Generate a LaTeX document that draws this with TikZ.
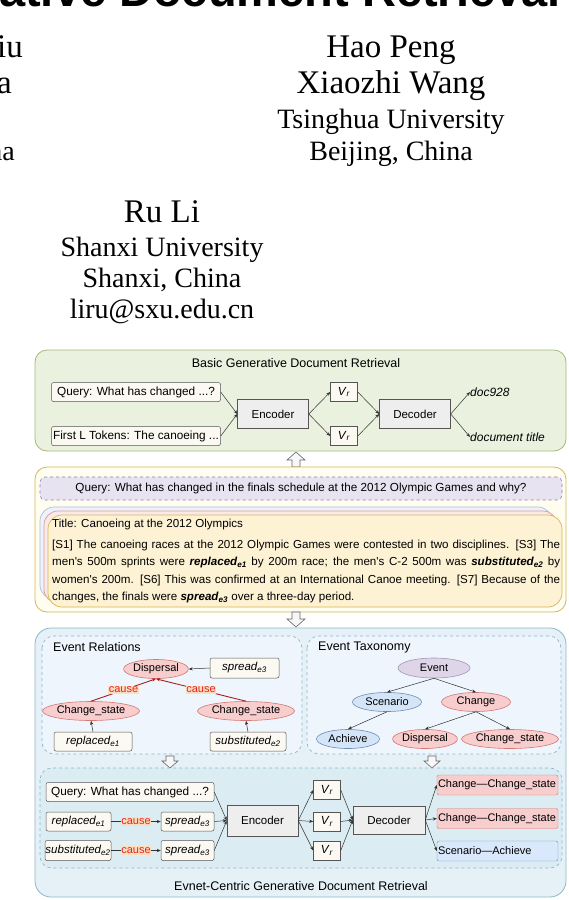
\documentclass[tikz,border=0pt]{standalone}
\usepackage{fontspec}
\setmainfont{Liberation Serif}
\newfontfamily\diafont{Liberation Sans}
\usepackage{xcolor}
\usepackage{tikz}
\usetikzlibrary{arrows.meta,shapes.geometric}

\definecolor{grnfill}{RGB}{234,241,223}
\definecolor{grnline}{RGB}{164,186,120}
\definecolor{ylwfill}{RGB}{255,252,240}
\definecolor{ylwline}{RGB}{214,182,86}
\definecolor{cardfill}{RGB}{253,242,212}
\definecolor{pplfill}{RGB}{231,227,240}
\definecolor{pplline}{RGB}{150,125,180}
\definecolor{bluefill}{RGB}{230,241,247}
\definecolor{blueline}{RGB}{140,182,204}
\definecolor{panelfill}{RGB}{238,245,252}
\definecolor{panelline}{RGB}{135,185,210}
\definecolor{lowfill}{RGB}{219,237,243}
\definecolor{boxfill}{RGB}{251,249,242}
\definecolor{boxline}{RGB}{85,85,85}
\definecolor{modfill}{RGB}{238,238,238}
\definecolor{redfill}{RGB}{247,206,205}
\definecolor{redline}{RGB}{212,120,116}
\definecolor{skyfill}{RGB}{212,229,248}
\definecolor{skyline}{RGB}{110,140,180}
\definecolor{evfill}{RGB}{222,213,232}
\definecolor{evline}{RGB}{165,150,185}
\definecolor{causebg}{RGB}{252,222,190}
\definecolor{causefg}{RGB}{220,40,40}
\definecolor{causeln}{RGB}{170,30,30}
\definecolor{outbfill}{RGB}{218,232,252}
\definecolor{outbline}{RGB}{108,142,191}
\definecolor{linkgray}{RGB}{50,50,50}

\begin{document}
\begin{tikzpicture}[x=1pt,y=-1pt,>={Stealth[length=4pt,width=3.2pt]},
  every node/.style={font=\diafont\fontsize{11.8}{14}\selectfont,inner sep=0pt},
  hdr/.style={font=\fontsize{33}{40}\selectfont,anchor=base},
  aff/.style={font=\fontsize{28}{34}\selectfont,anchor=base},
  ptitle/.style={font=\diafont\fontsize{12.5}{15}\selectfont},
  panel/.style={rounded corners=12,line width=0.8pt},
  subpanel/.style={rounded corners=12,dashed,draw=panelline,fill=panelfill,line width=0.7pt},
  card/.style={rounded corners=14,line width=0.7pt},
  txtbox/.style={draw=boxline,fill=boxfill,rounded corners=2pt,minimum height=19,line width=0.5pt},
  itbox/.style={txtbox,font=\diafont\itshape\fontsize{11.5}{13}\selectfont},
  modbox/.style={draw=boxline,fill=modfill,minimum width=71,minimum height=29,line width=0.5pt,font=\diafont\fontsize{11.5}{13}\selectfont},
  vecbox/.style={draw=boxline,fill=boxfill,minimum width=27,minimum height=19,line width=0.5pt},
  redell/.style={ellipse,draw=redline,fill=redfill,line width=0.6pt,font=\diafont\fontsize{11}{13}\selectfont},
  bluell/.style={ellipse,draw=skyline,fill=skyfill,line width=0.6pt,font=\diafont\fontsize{11}{13}\selectfont},
  outred/.style={draw=redline,fill=redfill,rounded corners=2pt,text width=119,inner xsep=1pt,minimum height=20,align=left,font=\diafont\fontsize{11}{13}\selectfont},
  outblue/.style={draw=outbline,fill=outbfill,rounded corners=2pt,text width=119,inner xsep=1pt,minimum height=20,align=left,font=\diafont\fontsize{11}{13}\selectfont},
  outtext/.style={anchor=west,font=\diafont\itshape\fontsize{12}{14}\selectfont},
  link/.style={->,draw=linkgray,line width=0.5pt},
  causelink/.style={->,draw=causeln,line width=0.9pt},
  causetag/.style={fill=causebg,text=causefg,inner xsep=0.5pt,inner ysep=1pt,font=\diafont\fontsize{11}{13}\selectfont},
  blockarrow/.style={draw=gray!80!black,fill=gray!6,line width=0.6pt,line join=miter}]

  \useasboundingbox (0,0) rectangle (568,900);
  \clip (0,0) rectangle (568,900);

  \node[anchor=base west,font=\diafont\bfseries\fontsize{47}{50}\selectfont] (papertitle) at (-1,6) {ative Document Retrieval};
  \node[hdr,anchor=base east] (leftname) at (23,57) {iu};
  \node[hdr,anchor=base east] (leftname2) at (12,93) {a};
  \node[aff,anchor=base east] (leftcity) at (15,160) {na};
  \node[hdr] (peng) at (391,57) {Hao Peng};
  \node[hdr] (wang) at (391,93) {Xiaozhi Wang};
  \node[aff] (thu) at (391,128) {Tsinghua University};
  \node[aff] (thucity) at (391,160) {Beijing, China};
  \node[hdr] (li) at (162,222) {Ru Li};
  \node[aff] (sxu) at (162,256) {Shanxi University};
  \node[aff] (sxucity) at (162,287) {Shanxi, China};
  \node[aff] (mail) at (162,318) {liru@sxu.edu.cn};

  % basic generative retrieval
  \draw[panel,draw=grnline,fill=grnfill] (35,350) rectangle (566,451);
  \node[ptitle] (basictitle) at (296,363) {Basic Generative Document Retrieval};
  \node[txtbox,minimum width=169] (bquery) at (136,392) {Query: What has changed ...?};
  \node[txtbox,minimum width=169] (bfirst) at (136,436) {First L Tokens: The canoeing ...};
  \node[modbox] (benc) at (273,414) {Encoder};
  \node[vecbox] (bvec1) at (344,392) {\textit{V}\textsubscript{\textit{r}}};
  \node[vecbox] (bvec2) at (344,436) {\textit{V}\textsubscript{\textit{r}}};
  \node[modbox] (bdec) at (415,414) {Decoder};
  \node[outtext] (bdocid) at (470,392) {doc928};
  \node[outtext] (bdoctitle) at (470,437) {document title};
  \draw[link] (bquery.east) -- (benc.west);
  \draw[link] (bfirst.east) -- (benc.west);
  \draw[link] (benc.east) -- (bvec1.west);
  \draw[link] (benc.east) -- (bvec2.west);
  \draw[link] (bvec1.east) -- (bdec.west);
  \draw[link] (bvec2.east) -- (bdec.west);
  \draw[link] (bdec.east) -- (bdocid.west);
  \draw[link] (bdec.east) -- (bdoctitle.west);

  \draw[blockarrow] (296,452) -- (305,460) -- (300,460) -- (300,467) -- (292,467) -- (292,460) -- (287,460) -- cycle;

  % document
  \draw[panel,draw=ylwline,fill=ylwfill] (35,467) rectangle (566,612);
  \node[draw=pplline,fill=pplfill,dashed,rounded corners=5,minimum width=522,minimum height=23,line width=0.6pt,font=\diafont\fontsize{11.7}{14}\selectfont] (dquery) at (301,488.5) {Query: What has changed in the finals schedule at the 2012 Olympic Games and why?};
  \draw[card,draw=skyline!55,fill=skyfill!45] (40,507) rectangle (552,599);
  \draw[card,draw=redline!75,fill=redfill!45] (44,511) rectangle (557,603);
  \draw[card,draw=ylwline,fill=cardfill] (48,515) rectangle (562,607);
  \node[anchor=north west,align=left,font=\diafont\fontsize{11.6}{17.3}\selectfont] (doctext) at (52,518.5) {Title: Canoeing at the 2012 Olympics\\[4pt]
    \makebox[508pt][s]{[S1] The canoeing races at the 2012 Olympic Games were contested in two disciplines. [S3] The}\\
    \makebox[508pt][s]{men's 500m sprints were \textbf{\textit{replaced\textsubscript{e1}}} by 200m race; the men's C-2 500m was \textbf{\textit{substituted\textsubscript{e2}}} by}\\
    \makebox[508pt][s]{women's 200m. [S6] This was confirmed at an International Canoe meeting. [S7] Because of the}\\
    changes, the finals were \textbf{\textit{spread\textsubscript{e3}}} over a three-day period.};

  \draw[blockarrow] (296,627) -- (305,619) -- (300,619) -- (300,612) -- (292,612) -- (292,619) -- (287,619) -- cycle;

  % event-centric retrieval
  \draw[panel,draw=blueline,fill=bluefill,rounded corners=16] (35,628) rectangle (566,897);
  \draw[subpanel] (42,636) rectangle (302,754);
  \draw[subpanel] (307,636) rectangle (561,754);
  \node[ptitle,anchor=west] (reltitle) at (53,647) {Event Relations};
  \node[ptitle,anchor=west] (taxtitle) at (318,647) {Event Taxonomy};

  \node[redell,minimum width=62,minimum height=19] (rdisp) at (156,669) {Dispersal};
  \node[itbox,minimum width=69,minimum height=20] (rspread) at (244.5,668) {spread\textsubscript{e3}};
  \node[redell,minimum width=86,minimum height=19] (rstate1) at (91,711) {Change\_state};
  \node[redell,minimum width=82,minimum height=19] (rstate2) at (246,711) {Change\_state};
  \node[itbox,minimum width=78] (rrepl) at (93,741.5) {replaced\textsubscript{e1}};
  \node[itbox,minimum width=76] (rsubs) at (248,741.5) {substituted\textsubscript{e2}};
  \draw[link] (rspread.west) -- (rdisp.east);
  \draw[link] (rrepl.north) -- (rstate1.south);
  \draw[link] (rsubs.north) -- (rstate2.south);
  \draw[causelink] (rstate1.north) -- node[causetag] {cause} (rdisp.south);
  \draw[causelink] (rstate2.north) -- node[causetag] {cause} (rdisp.south);

  \node[ellipse,draw=evline,fill=evfill,line width=0.6pt,minimum width=72,minimum height=20,font=\diafont\fontsize{11}{13}\selectfont] (tevent) at (434,668) {Event};
  \node[bluell,minimum width=69,minimum height=19] (tscen) at (387,702) {Scenario};
  \node[redell,minimum width=69,minimum height=19] (tchange) at (476,702) {Change};
  \node[bluell,minimum width=63,minimum height=19] (tachieve) at (348,739) {Achieve};
  \node[redell,minimum width=56,minimum height=19] (tdisp) at (425,739) {Dispersal};
  \node[redell,minimum width=81,minimum height=19] (tstate) at (510,739) {Change\_state};
  \draw[link] (tevent.south) -- (tscen.north);
  \draw[link] (tevent.south) -- (tchange.north);
  \draw[link] (tscen.south) -- (tachieve.north);
  \draw[link] (tchange.south) -- (tdisp.north);
  \draw[link] (tchange.south) -- (tstate.north);

  \draw[blockarrow] (170,768) -- (178,761) -- (174,761) -- (174,756) -- (166,756) -- (166,761) -- (162,761) -- cycle;
  \draw[blockarrow] (432,768) -- (440,761) -- (436,761) -- (436,756) -- (428,756) -- (428,761) -- (424,761) -- cycle;

  \draw[subpanel,fill=lowfill] (40,768) rectangle (562,868);
  \node[txtbox,minimum width=168] (lquery) at (130,792) {Query: What has changed ...?};
  \node[itbox,minimum width=65] (lrepl) at (78.5,821.5) {replaced\textsubscript{e1}};
  \node[itbox,minimum width=53] (lspread1) at (187.5,821.5) {spread\textsubscript{e3}};
  \node[itbox,minimum width=66,minimum height=20] (lsubs) at (78,850.5) {substituted\textsubscript{e2}};
  \node[itbox,minimum width=53,minimum height=20] (lspread2) at (187.5,850.5) {spread\textsubscript{e3}};
  \draw[link] (lrepl.east) -- node[causetag] {cause} (lspread1.west);
  \draw[link] (lsubs.east) -- node[causetag] {cause} (lspread2.west);
  \node[modbox,minimum height=31] (lenc) at (262.5,820.5) {Encoder};
  \node[vecbox] (lvec1) at (327,790) {\textit{V}\textsubscript{\textit{r}}};
  \node[vecbox] (lvec2) at (327,821.5) {\textit{V}\textsubscript{\textit{r}}};
  \node[vecbox] (lvec3) at (327,850.5) {\textit{V}\textsubscript{\textit{r}}};
  \node[modbox,minimum width=72,minimum height=28] (ldec) at (389,820) {Decoder};
  \node[outred] (lout1) at (497.5,785) {Change—Change\_state};
  \node[outred] (lout2) at (497.5,818.5) {Change—Change\_state};
  \node[outblue] (lout3) at (497.5,851) {Scenario—Achieve};
  \draw[link] (lquery.east) -- (lenc.west);
  \draw[link] (lspread1.east) -- (lenc.west);
  \draw[link] (lspread2.east) -- (lenc.west);
  \draw[link] (lenc.east) -- (lvec1.west);
  \draw[link] (lenc.east) -- (lvec2.west);
  \draw[link] (lenc.east) -- (lvec3.west);
  \draw[link] (lvec1.east) -- (ldec.west);
  \draw[link] (lvec2.east) -- (ldec.west);
  \draw[link] (lvec3.east) -- (ldec.west);
  \draw[link] (ldec.east) -- (lout1.west);
  \draw[link] (ldec.east) -- (lout2.west);
  \draw[link] (ldec.east) -- (lout3.west);
  \node[ptitle] (lowtitle) at (301,886) {Evnet-Centric Generative Document Retrieval};
\end{tikzpicture}
\end{document}
